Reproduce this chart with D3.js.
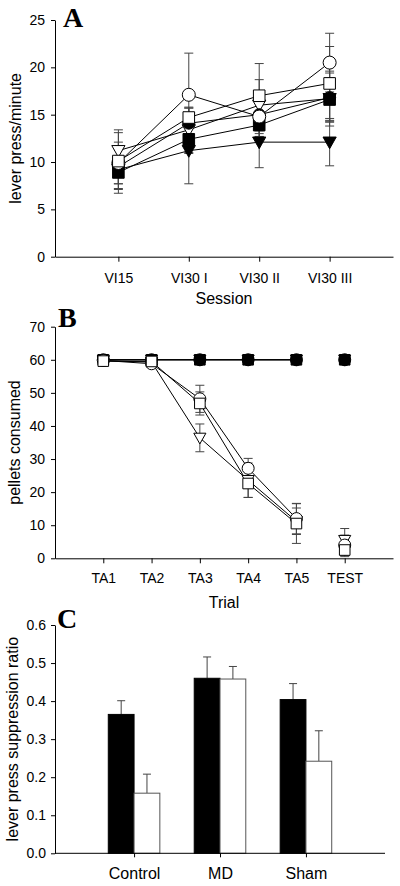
<!DOCTYPE html>
<html><head><meta charset="utf-8">
<script src="https://cdn.jsdelivr.net/npm/d3@7"></script>
<style>
body{margin:0;background:#fff}
svg{display:block}
text{font-family:"Liberation Sans",Arial,sans-serif;fill:#000}
</style>
</head><body>
<svg id="chart" width="400" height="886"></svg>
<script>
// ---------- Panel A data ----------
const sessions = ["VI15", "VI30 I", "VI30 II", "VI30 III"];
const aTicks = [0, 5, 10, 15, 20, 25];
const aOpenTriangle = [11.2, 13.4, 16.0, 16.7];
const aOpenTriangleErr = [2.2, 2.4, 2.7, 2.9];
const aFilledTriangle = [9.2, 11.2, 12.1, 12.1];
const aFilledTriangleErr = [2.5, 3.5, 2.7, 2.5];
const aFilledCircle = [9.5, 14.1, 15.0, 16.8];
const aFilledCircleErr = [1.8, 1.6, 2.0, 2.6];
const aFilledSquare = [8.9, 12.4, 13.9, 16.6];
const aFilledSquareErr = [1.7, 1.5, 1.2, 2.3];
const aOpenCircle = [9.9, 17.1, 14.8, 20.5];
const aOpenCircleErr = [2.2, 4.4, 2.1, 3.1];
const aOpenSquare = [10.1, 14.7, 17.0, 18.3];
const aOpenSquareErr = [3.0, 1.0, 3.4, 3.9];

// ---------- Panel B data ----------
const trials = ["TA1", "TA2", "TA3", "TA4", "TA5", "TEST"];
const bSeparated = ["TEST"]; // not joined by a line
const bTicks = [0, 10, 20, 30, 40, 50, 60, 70];
const bFilledTriangle = [60, 60, 60, 60, 60, 60];
const bFilledSquare = [60, 60, 60, 60, 60, 60];
const bFilledCircle = [60, 60, 60, 60, 60, 60];
const bFilledErr = [0, 0, 0, 0, 0, 0];
const bOpenTriangle = [59.7, 59.3, 36.4, 23.6, 11.2, 5.5];
const bOpenTriangleErr = [0.4, 0.6, 4.2, 5.2, 4.0, 3.5];
const bOpenCircle = [59.8, 58.8, 48.2, 27.2, 12.0, 4.0];
const bOpenCircleErr = [0.4, 0.8, 4.1, 3.0, 4.6, 3.0];
const bOpenSquare = [59.6, 59.5, 46.8, 22.6, 10.5, 2.5];
const bOpenSquareErr = [0.4, 0.5, 3.5, 4.2, 6.0, 2.0];

// ---------- Panel C data ----------
const groups = ["Control", "MD", "Sham"];
const cTicks = [0, 0.1, 0.2, 0.3, 0.4, 0.5, 0.6];
const cBlack = [0.365, 0.460, 0.404];
const cBlackErr = [0.036, 0.056, 0.042];
const cWhite = [0.158, 0.458, 0.242];
const cWhiteErr = [0.050, 0.033, 0.080];

// ---------- drawing ----------
const svg = d3.select("#chart");
const errColor = "#444";

function markerPath(shape, s) {
  if (shape === "circle") return d3.symbol(d3.symbolCircle, Math.PI * s * s)();
  if (shape === "square") return `M${-s},${-s}H${s}V${s}H${-s}Z`;
  // downward triangle
  const w = s * 1.1;
  return `M${-w},${-s * 0.85}L${w},${-s * 0.85}L0,${s * 1.1}Z`;
}

function styleAxis(g, fontSize) {
  g.select(".domain").attr("stroke", "#000").attr("stroke-width", 1);
  g.selectAll(".tick line").attr("stroke", "#000");
  g.selectAll("text").attr("font-size", fontSize).attr("font-family", "Liberation Sans, Arial, sans-serif").attr("fill", "#000");
}

function linePanel(opts) {
  const { cats, series, yDomain, yRange, xRange, ticks, yTitle, xTitle, xTitleY, letter, letterPos, tickLabelOffset, padding, breakBefore } = opts;
  const x = d3.scalePoint().domain(cats).range(xRange).padding(padding);
  const y = d3.scaleLinear().domain(yDomain).range(yRange);
  const g = svg.append("g");

  const ya = g.append("g").attr("transform", `translate(${xRange[0]},0)`)
    .call(d3.axisLeft(y).tickValues(ticks).tickSize(4).tickSizeOuter(0).tickPadding(6));
  styleAxis(ya, 14);
  const xa = g.append("g").attr("transform", `translate(0,${yRange[0]})`)
    .call(d3.axisBottom(x).tickSize(5).tickSizeOuter(0).tickPadding(tickLabelOffset));
  styleAxis(xa, 14);

  // lines
  series.forEach(s => {
    const pts = cats.map((c, i) => ({ c, v: s.values[i], e: s.err[i] }));
    const line = d3.line()
      .defined(d => !(breakBefore || []).includes(d.c))
      .x(d => x(d.c)).y(d => y(d.v));
    g.append("path").datum(pts).attr("d", line)
      .attr("fill", "none").attr("stroke", "#000").attr("stroke-width", 1);
  });
  // error bars
  series.forEach(s => {
    const pts = cats.map((c, i) => ({ c, v: s.values[i], e: s.err[i] })).filter(d => d.e > 0);
    const eg = g.append("g").attr("stroke", errColor).attr("stroke-width", 1);
    eg.selectAll(".v").data(pts).join("line")
      .attr("x1", d => x(d.c)).attr("x2", d => x(d.c))
      .attr("y1", d => y(d.v - d.e)).attr("y2", d => y(d.v + d.e));
    eg.selectAll(".t").data(pts).join("line")
      .attr("x1", d => x(d.c) - 4.5).attr("x2", d => x(d.c) + 4.5)
      .attr("y1", d => y(d.v + d.e)).attr("y2", d => y(d.v + d.e));
    eg.selectAll(".b").data(pts).join("line")
      .attr("x1", d => x(d.c) - 4.5).attr("x2", d => x(d.c) + 4.5)
      .attr("y1", d => y(d.v - d.e)).attr("y2", d => y(d.v - d.e));
  });
  // markers
  series.forEach(s => {
    const pts = cats.map((c, i) => ({ c, v: s.values[i] }));
    g.append("g").selectAll("path").data(pts).join("path")
      .attr("transform", d => `translate(${x(d.c)},${y(d.v)})`)
      .attr("d", markerPath(s.shape, s.size))
      .attr("fill", s.filled ? "#000" : "#fff")
      .attr("stroke", "#000").attr("stroke-width", 1);
  });

  const midY = (yRange[0] + yRange[1]) / 2;
  g.append("text").attr("transform", `translate(${opts.yTitleX},${midY}) rotate(-90)`)
    .attr("text-anchor", "middle").attr("font-size", 16).text(yTitle);
  g.append("text").attr("x", (xRange[0] + xRange[1]) / 2).attr("y", xTitleY)
    .attr("text-anchor", "middle").attr("font-size", 16).text(xTitle);
  g.append("text").attr("x", letterPos[0]).attr("y", letterPos[1])
    .style("font-family", "Liberation Serif, serif")
    .attr("font-weight", "bold").attr("font-size", 28).text(letter);
}

// Panel A
linePanel({
  cats: sessions,
  series: [
    { shape: "triangle", filled: false, values: aOpenTriangle, err: aOpenTriangleErr, size: 6 },
    { shape: "triangle", filled: true, values: aFilledTriangle, err: aFilledTriangleErr, size: 6 },
    { shape: "circle", filled: true, values: aFilledCircle, err: aFilledCircleErr, size: 6 },
    { shape: "square", filled: true, values: aFilledSquare, err: aFilledSquareErr, size: 5.8 },
    { shape: "circle", filled: false, values: aOpenCircle, err: aOpenCircleErr, size: 6.5 },
    { shape: "square", filled: false, values: aOpenSquare, err: aOpenSquareErr, size: 5.8 }
  ],
  yDomain: [0, 25], yRange: [256.7, 20], xRange: [55, 393], ticks: aTicks, padding: 0.9,
  yTitle: "lever press/minute", yTitleX: 21, xTitle: "Session", xTitleY: 304,
  letter: "A", letterPos: [63, 27], tickLabelOffset: 11
});

// Panel B
linePanel({
  cats: trials,
  series: [
    { shape: "triangle", filled: true, values: bFilledTriangle, err: bFilledErr, size: 5.5 },
    { shape: "square", filled: true, values: bFilledSquare, err: bFilledErr, size: 5.3 },
    { shape: "circle", filled: true, values: bFilledCircle, err: bFilledErr, size: 6 },
    { shape: "triangle", filled: false, values: bOpenTriangle, err: bOpenTriangleErr, size: 5.5 },
    { shape: "circle", filled: false, values: bOpenCircle, err: bOpenCircleErr, size: 6 },
    { shape: "square", filled: false, values: bOpenSquare, err: bOpenSquareErr, size: 5.3 }
  ],
  yDomain: [0, 70], yRange: [558.3, 326.7], xRange: [55, 393], ticks: bTicks, padding: 1,
  yTitle: "pellets consumed", yTitleX: 20, xTitle: "Trial", xTitleY: 608,
  letter: "B", letterPos: [58, 327], tickLabelOffset: 10, breakBefore: bSeparated
});

// Panel C
(function () {
  const xRange = [55, 385], yRange = [853.3, 625];
  const x0 = d3.scaleBand().domain(groups).range(xRange).paddingInner(0.4).paddingOuter(0.62);
  const kinds = ["black", "white"];
  const x1 = d3.scaleBand().domain(kinds).range([0, x0.bandwidth()]);
  const y = d3.scaleLinear().domain([0, 0.6]).range(yRange);
  const g = svg.append("g");
  const rows = [];
  groups.forEach((grp, i) => {
    rows.push({ grp, k: "black", v: cBlack[i], e: cBlackErr[i] });
    rows.push({ grp, k: "white", v: cWhite[i], e: cWhiteErr[i] });
  });
  const eg = g.append("g").attr("stroke", errColor).attr("stroke-width", 1);
  const cx = d => x0(d.grp) + x1(d.k) + x1.bandwidth() / 2;
  eg.selectAll(".v").data(rows).join("line")
    .attr("x1", cx).attr("x2", cx).attr("y1", d => y(d.v)).attr("y2", d => y(d.v + d.e));
  eg.selectAll(".c").data(rows).join("line")
    .attr("x1", d => cx(d) - 4).attr("x2", d => cx(d) + 4)
    .attr("y1", d => y(d.v + d.e)).attr("y2", d => y(d.v + d.e));
  g.selectAll("rect").data(rows).join("rect")
    .attr("x", d => x0(d.grp) + x1(d.k)).attr("width", x1.bandwidth())
    .attr("y", d => y(d.v)).attr("height", d => y(0) - y(d.v))
    .attr("fill", d => d.k === "black" ? "#000" : "#fff")
    .attr("stroke", d => d.k === "black" ? "#000" : "#555").attr("stroke-width", 1);

  const ya = g.append("g").attr("transform", `translate(${xRange[0]},0)`)
    .call(d3.axisLeft(y).tickValues(cTicks).tickFormat(d3.format(".1f")).tickSize(4).tickSizeOuter(0).tickPadding(5));
  styleAxis(ya, 14);
  const xc = d3.scalePoint().domain(groups).range([x0(groups[0]) + x0.bandwidth() / 2, x0(groups[2]) + x0.bandwidth() / 2]);
  const xa = g.append("g").attr("transform", `translate(0,${yRange[0]})`)
    .call(d3.axisBottom(xc).tickSize(4).tickSizeOuter(0).tickPadding(10));
  xa.select(".domain").remove();
  g.append("line").attr("x1", xRange[0]).attr("x2", xRange[1]).attr("y1", yRange[0]).attr("y2", yRange[0]).attr("stroke", "#000");
  styleAxis(xa, 16);

  g.append("text").attr("transform", `translate(18,${(yRange[0] + yRange[1]) / 2}) rotate(-90)`)
    .attr("text-anchor", "middle").attr("font-size", 16).text("lever press suppression ratio");
  g.append("text").attr("x", 57).attr("y", 628)
    .style("font-family", "Liberation Serif, serif").attr("font-weight", "bold").attr("font-size", 28).text("C");
})();
</script>
</body></html>
